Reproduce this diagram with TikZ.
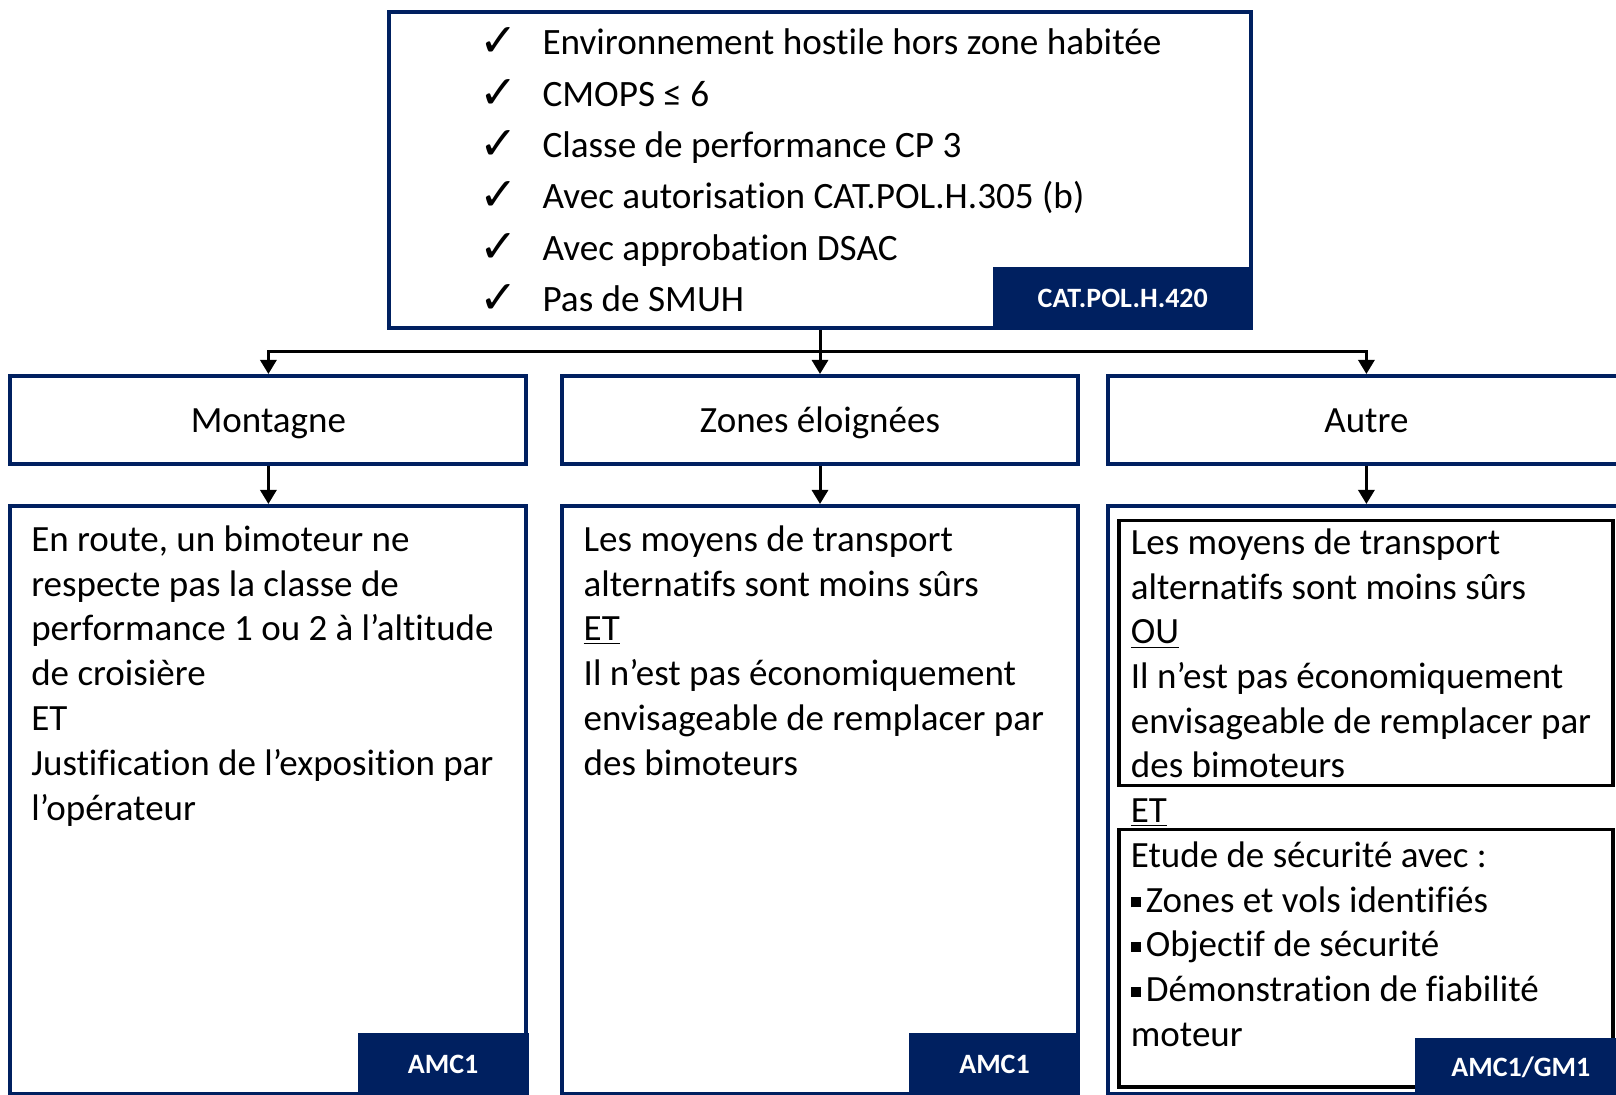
\documentclass[tikz,border=0pt]{standalone}
\usepackage{fontspec}
\setmainfont{Carlito}[Ligatures={NoCommon,NoRequired,NoContextual},RawFeature={-liga;-clig;-calt;-dlig}]
\newfontfamily\dejavu{DejaVu Sans}
\usetikzlibrary{arrows.meta}
\definecolor{navy}{RGB}{0,32,96}
\newcommand\chk{\makebox[28.85pt][l]{\hspace{-2.5pt}\raisebox{-1pt}{\dejavu\fontsize{23}{23}\selectfont ✓}}}
\newcommand\sqbul{\rule[2.4pt]{5pt}{5pt}\hspace{2.5pt}}
\begin{document}
\begin{tikzpicture}[x=1pt,y=-1pt,
  box/.style={draw=navy, line width=2pt, fill=white, inner sep=0pt, minimum width=258pt},
  head/.style={box, minimum height=44pt, font=\fontsize{18.5}{22.4}\selectfont, text height=16pt, text depth=3.6pt},
  tab/.style={fill=navy, text=white, font=\bfseries\fontsize{14}{16}\selectfont, inner sep=0pt},
  inbox/.style={draw=black, line width=1.8pt, inner sep=0pt, minimum width=246.85pt},
  txt/.style={anchor=north west, inner sep=0pt, align=left, font=\fontsize{18.5}{22.4}\selectfont},
  conn/.style={line width=1.5pt},
  arr/.style={line width=1.5pt, -{Triangle[width=8pt,length=7pt]}}]
\useasboundingbox (0,0) rectangle (808,547.5);
\clip (0,0) rectangle (808,547.5);
% top box
\node[box, minimum width=431pt, minimum height=158pt] (top) at (410,85) {};
\node[txt, font=\fontsize{18.6}{25.65}\selectfont] (toptxt) at (242.2,9.3)
  {\strut\chk Environnement hostile hors zone habitée\\
   \chk CMOPS ≤ 6\\
   \chk Classe de performance CP 3\\
   \chk Avec autorisation CAT.POL.H.305 (b)\\
   \chk Avec approbation DSAC\\
   \chk Pas de SMUH};
\node[tab, minimum width=130.25pt, minimum height=31.5pt] (cattab) at (561.4,149.25) {CAT.POL.H.420};
% row 2
\node[head] (b1) at (134.2,210) {Montagne};
\node[head] (b2) at (410,210) {Zones éloignées};
\node[head] (b3) at (683.2,210) {Autre};
% row 3
\node[box, minimum height=294pt] (c1) at (134.2,400) {};
\node[box, minimum height=294pt] (c2) at (410,400) {};
\node[box, minimum height=294pt] (c3) at (683.2,400) {};
\node[txt] (t1) at (15.45,259.8)
  {\strut En route, un bimoteur ne\\
   respecte pas la classe de\\
   performance 1 ou 2 à l’altitude\\
   de croisière\\
   ET\\
   Justification de l’exposition par\\
   l’opérateur};
\node[txt] (t2) at (291.65,259.8)
  {\strut Les moyens de transport\\
   alternatifs sont moins sûrs\\
   \underline{ET}\\
   Il n’est pas économiquement\\
   envisageable de remplacer par\\
   des bimoteurs};
\node[inbox, minimum height=132.4pt] (i1) at (683,326.45) {};
\node[inbox, minimum height=128.85pt] (i2) at (683,479.2) {};
\node[txt, font=\fontsize{18.5}{22.35}\selectfont] (t3a) at (565.25,261.4)
  {\strut Les moyens de transport\\
   alternatifs sont moins sûrs\\
   \underline{OU}\\
   Il n’est pas économiquement\\
   envisageable de remplacer par\\
   des bimoteurs};
\node[anchor=base west, inner sep=0pt, font=\fontsize{18.5}{22.35}\selectfont] (t3et) at (565.25,411.15) {\underline{ET}};
\node[txt, font=\fontsize{18.5}{22.35}\selectfont] (t3b) at (565.25,417.85)
  {\strut Etude de sécurité avec :\\
   \sqbul Zones et vols identifiés\\
   \sqbul Objectif de sécurité\\
   \sqbul Démonstration de fiabilité\\
   moteur};
% tabs
\node[tab, minimum width=85.5pt, minimum height=31.65pt] (tab1) at (221.55,532.2) {AMC1};
\node[tab, minimum width=85.5pt, minimum height=31.65pt] (tab2) at (497.25,532.2) {AMC1};
\node[tab, minimum width=105.8pt, minimum height=29.1pt] (tab3) at (760.4,533.45) {AMC1/GM1};
% connectors
\coordinate (j) at (410,175.7);
\draw[conn] (top.south) -- (j);
\draw[arr] (j) -| (b1.north);
\draw[arr] (j) -- (b2.north);
\draw[arr] (j) -| (b3.north);
\draw[arr] (b1.south) -- (c1.north);
\draw[arr] (b2.south) -- (c2.north);
\draw[arr] (b3.south) -- (c3.north);
\end{tikzpicture}
\end{document}
